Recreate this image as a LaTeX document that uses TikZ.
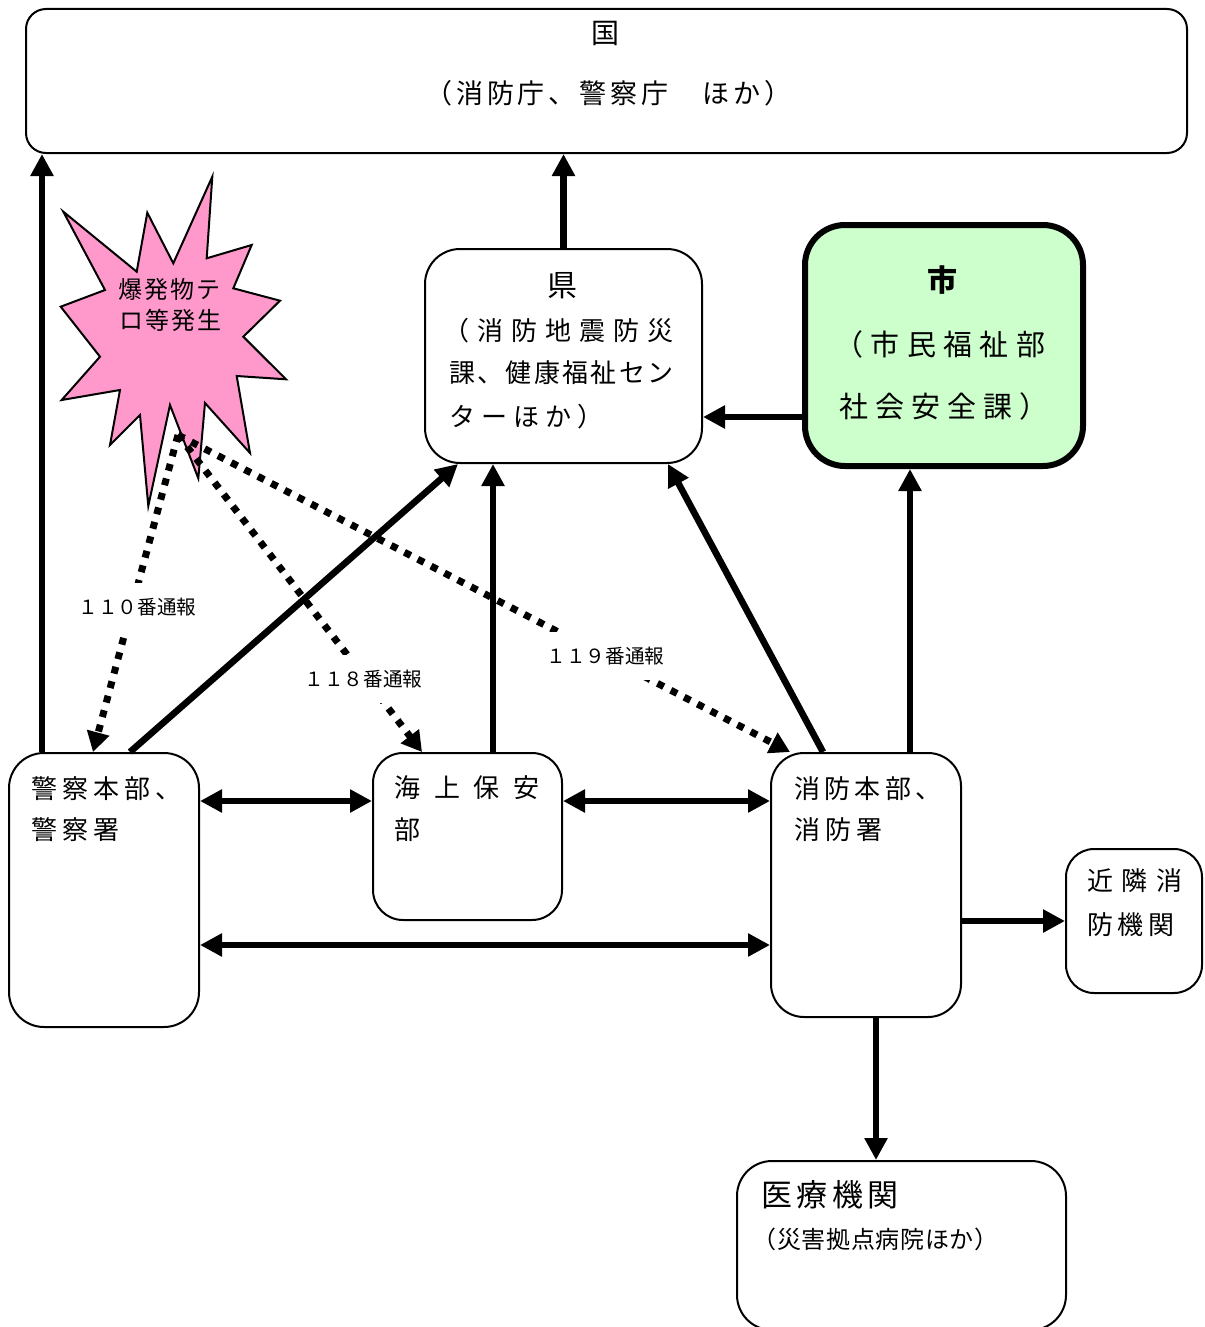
\documentclass[tikz,border=0pt]{standalone}
\usepackage{fontspec}
\setmainfont{Noto Sans CJK JP}
\usetikzlibrary{arrows.meta}
\definecolor{burstpink}{HTML}{FF99CC}
\definecolor{shigreen}{HTML}{CCFFCC}
% spread the characters of a line evenly over a given width (in px)
\def\sptxA#1{\ifx\relax#1\else#1\expandafter\sptxB\fi}
\def\sptxB#1{\ifx\relax#1\else\hfil#1\expandafter\sptxB\fi}
\newcommand\spreadln[2]{\makebox[\dimexpr#1pt/2\relax][s]{\sptxA#2\relax}}
% [extra font] name, xleft, ycenter, em(px), width(px), text
\newcommand\jline[7][]{%
  \pgfmathsetmacro\jlB{#4+0.38*#5}%
  \pgfmathsetmacro\jlF{#5/2}%
  \node[jtext,font=\fontsize{\jlF pt}{\jlF pt}\selectfont#1] (#2) at (#3,\jlB) {\spreadln{#6}{#7}};}
\tikzset{
  jtext/.style={inner sep=0pt, anchor=base west},
  box/.style={draw, line width=1pt, rounded corners=#1, inner sep=0pt},
  box/.default=17pt,
  solidarrow/.style={line width=3.3pt, -{Triangle[length=11pt,width=11pt]}},
  dblarrow/.style={line width=3.3pt, {Triangle[length=11pt,width=11pt]}-{Triangle[length=11pt,width=11pt]}},
  dotarrow/.style={line width=3.5pt, dash pattern=on 3.5pt off 4pt, -{Triangle[length=10pt,width=11pt]}},
  lbl/.style={fill=white, inner xsep=2pt, inner ysep=7.5pt, font=\fontsize{9.8pt}{9.8pt}\selectfont},
}
\begin{document}
\begin{tikzpicture}[x=0.5pt,y=-0.5pt]
\useasboundingbox (0,0) rectangle (1204,1327);
% boxes
\node[box=10pt, minimum width=580.5pt, minimum height=72pt] (kuni) at (606.5,81) {};
\node[box=17.5pt, minimum width=138.5pt, minimum height=107pt] (ken) at (563.5,356) {};
\node[box=20pt, line width=3pt, fill=shigreen, minimum width=139pt, minimum height=120.5pt] (shi) at (944,345.5) {};
\node[box=17.5pt, minimum width=95pt, minimum height=137pt] (police) at (104,890) {};
\node[box=15pt, minimum width=94.5pt, minimum height=83.5pt] (coast) at (467.5,836.5) {};
\node[box=16.5pt, minimum width=95pt, minimum height=132pt] (fire) at (866,885) {};
\node[box=14pt, minimum width=68pt, minimum height=72pt] (near) at (1134,921) {};
\node[box=17.5pt, minimum width=164.5pt, minimum height=84.5pt] (med) at (901.5,1245.5) {};
% texts
\jline{kuniT}{591}{33}{28}{28}{国}
\jline{kuniS}{425}{93}{27}{366}{（消防庁、警察庁　ほか）}
\jline{kenT}{547}{285}{30}{30}{県}
\jline{kenA}{443}{331}{26}{230}{（消防地震防災}
\jline{kenB}{449}{373}{26}{224}{課、健康福祉セン}
\jline{kenC}{449}{417}{26}{154}{ターほか）}
\jline[\bfseries]{shiT}{927.5}{280}{30}{30}{市}
\jline{shiA}{834}{344}{29}{211}{（市民福祉部}
\jline{shiB}{839}{406}{29}{209}{社会安全課）}
\jline{polA}{31}{789}{26}{150}{警察本部、}
\jline{polB}{31}{830}{26}{88}{警察署}
\jline{coaA}{394}{788}{26}{145}{海上保安}
\jline{coaB}{394}{830}{26}{26}{部}
\jline{firA}{794}{789}{26}{147}{消防本部、}
\jline{firB}{794}{830}{26}{88}{消防署}
\jline{neaA}{1087}{881}{26}{95}{近隣消}
\jline{neaB}{1087}{925}{26}{87}{防機関}
\jline{medA}{761}{1195}{31}{137}{医療機関}
\jline{medB}{752}{1239}{24}{246}{（災害拠点病院ほか）}
% solid connectors
\draw[solidarrow] (42,0 |- police.north) -- (42,0 |- kuni.south);
\draw[solidarrow] (ken.north) -- (ken.north |- kuni.south);
\draw[solidarrow] (shi.west |- 0,417) -- (ken.east |- 0,417);
\draw[solidarrow] (130,0 |- police.north) -- (458,0 |- ken.south);
\draw[solidarrow] (493,0 |- coast.north) -- (493,0 |- ken.south);
\draw[solidarrow] (823,0 |- fire.north) -- (668,0 |- ken.south);
\draw[solidarrow] (910,0 |- fire.north) -- (910,0 |- shi.south);
\draw[dblarrow] (police.east |- 0,801) -- (coast.west |- 0,801);
\draw[dblarrow] (coast.east |- 0,801) -- (fire.west |- 0,801);
\draw[dblarrow] (police.east |- 0,945) -- (fire.west |- 0,945);
\draw[solidarrow] (fire.east |- 0,921) -- (near.west |- 0,921);
\draw[solidarrow] (876,0 |- fire.south) -- (876,0 |- med.north);
% burst
\draw[line width=1pt, fill=burstpink, line join=miter]
  (63.3,211.7) -- (136.7,271.7) -- (147.3,212.7) -- (173.3,263.3) -- (212.3,176.7)
  -- (206.7,258.3) -- (251.7,245) -- (233.3,288.3) -- (280,300.7) -- (243.3,336.7)
  -- (286,379.3) -- (236.7,376) -- (250,453) -- (205,403) -- (198.3,478.3)
  -- (170,405) -- (148.3,506) -- (140,415) -- (110,445) -- (120,390)
  -- (61.7,400) -- (100,356.7) -- (60.7,306.7) -- (105,290) -- cycle;
\jline{burA}{118}{289}{24}{102}{爆発物テ}
\jline{burB}{119}{320}{24}{102}{ロ等発生}
% dotted reports
\coordinate (src) at (178,435);
\draw[dotarrow] (src) -- (93,0 |- police.north);
\draw[dotarrow] (src) -- (422,0 |- coast.north);
\draw[dotarrow] (src) -- (790,0 |- fire.north);
\node[lbl] (l110) at (137.5,607) {１１０番通報};
\node[lbl] (l118) at (363.5,679) {１１８番通報};
\node[lbl] (l119) at (605.5,656) {１１９番通報};
\end{tikzpicture}
\end{document}
